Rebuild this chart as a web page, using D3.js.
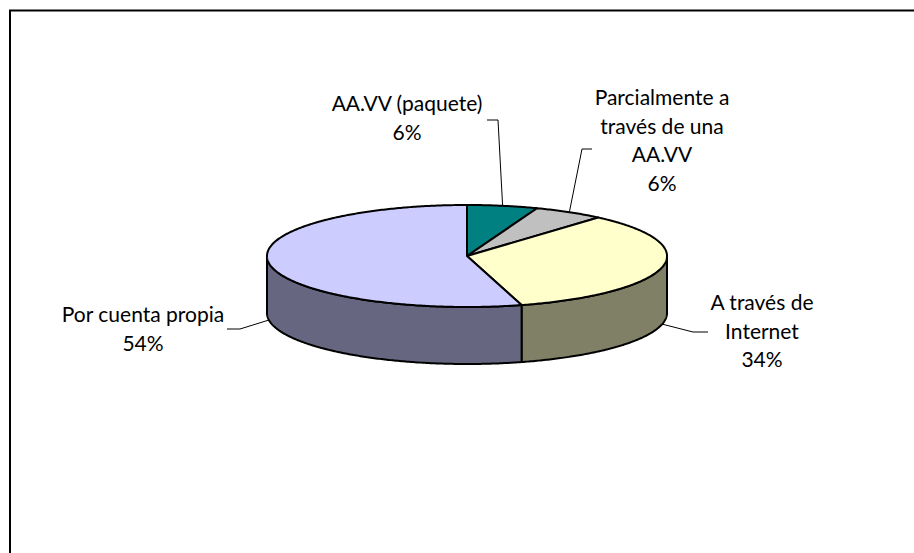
<!DOCTYPE html>
<html>
<head>
<meta charset="utf-8">
<script src="https://cdn.jsdelivr.net/npm/d3@7"></script>
<style>
  html, body { margin: 0; padding: 0; background: #fff; }
  svg { display: block; }
</style>
</head>
<body>
<svg id="chart" width="914" height="553"></svg>
<script>
// ---- data ----
const categories = ["AA.VV (paquete)", "Parcialmente a través de una AA.VV", "A través de Internet", "Por cuenta propia"];
const values = [5.7, 5.7, 34.2, 54.4];
const topColors = ["#008080", "#C0C0C0", "#FFFFCC", "#CCCCFF"];
const sideColors = ["#004040", "#606060", "#808066", "#666680"];

// ---- layout ----
const W = 914, H = 553;
const cx = 467, cy = 256, rx = 200, ry = 51, depth = 57;
const fontFamily = "Lato, 'Open Sans', sans-serif";
const fontSize = 21;
const lineH = 28.5;
// label layout: text lines (wrapping), center x, first baseline y, leader elbow points
const labelLayout = [
  { lines: ["AA.VV (paquete)"], x: 407, y: 111, leader: [[487, 120], [498, 120]] },
  { lines: ["Parcialmente a", "través de una", "AA.VV"], x: 662, y: 105, leader: [[592, 149], [582, 149]] },
  { lines: ["A través de", "Internet"], x: 762, y: 310, leader: [[708, 332], [693, 332]] },
  { lines: ["Por cuenta propia"], x: 143, y: 322, leader: [[227, 329], [240, 329]] }
];

const svg = d3.select("#chart");
svg.append("rect").attr("x", 10).attr("y", 10.5).attr("width", 930).attr("height", 570)
  .attr("fill", "#fff").attr("stroke", "#000").attr("stroke-width", 2);

const data = categories.map((c, i) => ({ cat: c, value: values[i], i }));
const pie = d3.pie().sort(null).value(d => d.value).startAngle(0).endAngle(2 * Math.PI);
const arcs = pie(data);
const total = d3.sum(values);

const px = a => cx + rx * Math.sin(a);
const py = a => cy - ry * Math.cos(a);

function arcPoints(a0, a1, dy) {
  const n = Math.max(2, Math.ceil(Math.abs(a1 - a0) / 0.01));
  const pts = [];
  for (let k = 0; k <= n; k++) {
    const a = a0 + (a1 - a0) * k / n;
    pts.push([px(a), py(a) + dy]);
  }
  return pts;
}

const line = d3.line();

// sides (front half: angles between PI/2 and 3PI/2)
const gSides = svg.append("g");
arcs.forEach(d => {
  const s = Math.max(d.startAngle, Math.PI / 2);
  const e = Math.min(d.endAngle, 3 * Math.PI / 2);
  if (e <= s) return;
  const pts = arcPoints(s, e, 0).concat(arcPoints(e, s, depth));
  gSides.append("path")
    .attr("d", line(pts) + "Z")
    .attr("fill", sideColors[d.data.i])
    .attr("stroke", "#000").attr("stroke-width", 2).attr("stroke-linejoin", "round");
});

// tops
const gTops = svg.append("g");
arcs.forEach(d => {
  const pts = [[cx, cy]].concat(arcPoints(d.startAngle, d.endAngle, 0));
  gTops.append("path")
    .attr("d", line(pts) + "Z")
    .attr("fill", topColors[d.data.i])
    .attr("stroke", "#000").attr("stroke-width", 2).attr("stroke-linejoin", "round");
});

// labels & leaders
const gLab = svg.append("g");
arcs.forEach(d => {
  const L = labelLayout[d.data.i];
  const mid = (d.startAngle + d.endAngle) / 2;
  const front = Math.cos(mid) < 0;
  const anchor = [px(mid), py(mid) + (front ? depth : 0)];
  const pts = L.leader.concat([anchor]);
  gLab.append("path").attr("d", line(pts)).attr("fill", "none")
    .attr("stroke", "#000").attr("stroke-width", 1);
  const pct = Math.round(d.data.value / total * 100) + "%";
  const lines = L.lines.concat([pct]);
  const t = gLab.append("text")
    .attr("text-anchor", "middle")
    .attr("font-family", fontFamily).attr("font-size", fontSize).attr("fill", "#000");
  lines.forEach((s, k) => {
    t.append("tspan").attr("x", L.x).attr("y", L.y + k * lineH).text(s);
  });
});
</script>
</body>
</html>
